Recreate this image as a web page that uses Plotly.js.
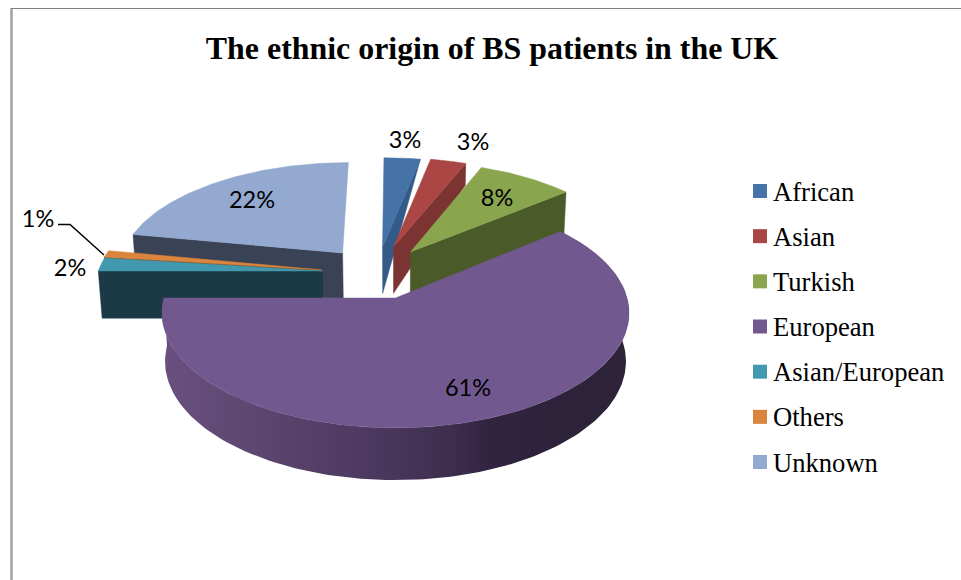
<!DOCTYPE html>
<html>
<head>
<meta charset="utf-8">
<script src="https://cdn.plot.ly/plotly-3.0.1.min.js"></script>
<style>html,body{margin:0;padding:0;background:#fff}#chart{width:961px;height:580px}</style>
</head>
<body>
<div id="chart"></div>
<script>
// Ethnic origin shares, percent
const categories = ['African', 'Asian', 'Turkish', 'European', 'Asian/European', 'Others', 'Unknown'];
const shares = [3, 3, 8, 61, 2, 1, 22];

// Slice colours: top face and shaded wall
const topColors = ['#4573A7', '#AA4643', '#89A54E', '#71588F', '#4198AF', '#DB843D', '#93A9CF'];
const wallColors = ['#345A88', '#7B3432', '#4B5A29', '#2D2239', '#1B3A46', '#7A4A1F', '#3A4355'];

// Exploded offset of each slice on the ground plane
const offsetU = [-0.0595, -0.0092, 0.0683, 0, -0.325, -0.328, -0.241];
const offsetV = [0.4795, 0.4795, 0.4298, 0, 0.2466, 0.256, 0.42];
// Which radial wall shows, and how far the wall drops at its outer end
const wallSide = ['end', 'end', 'end', null, 'start', 'start', 'start'];
const rimDrop = [0, 0.5, 1, 1, 1, 1, 1];
const paintOrder = [6, 5, 4, 0, 1, 2, 3];

// Label centres and key layout
const labelX = [405, 473, 497, 468, 70, 38, 252];
const labelY = [142, 144, 200, 390, 270, 221, 202];
const keyX = 760, keyTextX = 773, keyTop = 191, keyStep = 45.17;

// Perspective projection of the ground plane
const cam = {x0: 395.5, k: 0.13, topA: 231.5, topB: 113, topY: 298, botA: 228.5, botB: 116.6, botY: 346};
function project(U, V, level) {
  const d = 1 + cam.k * V;
  return level === 'top'
    ? [cam.x0 + cam.topA * U / d, cam.topY - cam.topB * V / d]
    : [cam.x0 + cam.botA * U / d, cam.botY - cam.botB * V / d];
}
const rad = d => d * Math.PI / 180;

const total = shares.reduce((a, b) => a + b, 0);
const startDeg = [], endDeg = [];
shares.reduce((acc, s, i) => {
  startDeg[i] = acc / total * 360;
  endDeg[i] = (acc + s) / total * 360;
  return acc + s;
}, 0);

function rimPoint(i, deg, level) {
  return project(offsetU[i] + Math.sin(rad(deg)), offsetV[i] + Math.cos(rad(deg)), level);
}
function polygon(points) {
  return {x: points.map(p => p[0]), y: points.map(p => p[1])};
}
function arc(i, level, steps) {
  const pts = [];
  for (let s = 0; s <= steps; s++) {
    pts.push(rimPoint(i, startDeg[i] + (endDeg[i] - startDeg[i]) * s / steps, level));
  }
  return pts;
}

const traces = [];
function addFace(points, color) {
  const p = polygon(points);
  traces.push({
    type: 'scatter', mode: 'lines', x: p.x.concat(p.x[0]), y: p.y.concat(p.y[0]),
    fill: 'toself', fillcolor: color, line: {color: color, width: 0.5},
    hoverinfo: 'skip', showlegend: false
  });
}

paintOrder.forEach(i => {
  const apexTop = project(offsetU[i], offsetV[i], 'top');
  const apexBot = project(offsetU[i], offsetV[i], 'bottom');
  if (wallSide[i]) {
    const deg = wallSide[i] === 'end' ? endDeg[i] : startDeg[i];
    const rimTop = rimPoint(i, deg, 'top');
    const rimBot = rimPoint(i, deg, 'bottom');
    const rimLow = [rimTop[0] + (rimBot[0] - rimTop[0]) * rimDrop[i], rimTop[1] + (rimBot[1] - rimTop[1]) * rimDrop[i]];
    addFace([apexTop, rimTop, rimLow, apexBot], wallColors[i]);
  } else {
    // Curved outer wall, shaded from left to right
    const t = arc(i, 'top', 160), b = arc(i, 'bottom', 160).reverse();
    const p = polygon(t.concat(b));
    traces.push({
      type: 'scatter', mode: 'lines', x: p.x, y: p.y, fill: 'toself', line: {width: 0},
      fillgradient: {type: 'horizontal', start: 162, stop: 629, colorscale: [
        [0, '#6A5080'], [0.2, '#5D4670'], [0.42, '#4E3A63'], [0.62, '#3D2E4E'],
        [0.7, '#312440'], [0.85, '#2C2239'], [1, '#2E2339']
      ]},
      hoverinfo: 'skip', showlegend: false
    });
  }
  addFace([apexTop].concat(arc(i, 'top', 80)), topColors[i]);
});

// Percentage labels
traces.push({
  type: 'scatter', mode: 'text', x: labelX, y: labelY,
  text: shares.map(s => s + '%'), textposition: 'middle center',
  textfont: {family: 'Lato, Carlito, sans-serif', size: 23.5, color: '#000'},
  hoverinfo: 'skip', showlegend: false
});

// Colour key
const keyY = categories.map((c, i) => keyTop + i * keyStep);
traces.push({
  type: 'scatter', mode: 'markers', x: categories.map(() => keyX), y: keyY,
  marker: {symbol: 'square', size: 14, color: topColors, line: {width: 0}},
  hoverinfo: 'skip', showlegend: false
});
traces.push({
  type: 'scatter', mode: 'text', x: categories.map(() => keyTextX), y: keyY.map(y => y + 3),
  text: categories, textposition: 'middle right',
  textfont: {family: '"Liberation Serif", serif', size: 26.6, color: '#000'},
  hoverinfo: 'skip', showlegend: false
});

const layout = {
  width: 961, height: 580,
  margin: {l: 0, r: 0, t: 0, b: 0},
  paper_bgcolor: '#fff', plot_bgcolor: '#fff',
  title: {
    text: '<b>The ethnic origin of BS patients in the UK</b>',
    font: {family: '"Liberation Serif", serif', size: 31.9, color: '#000'},
    x: 492 / 961, xanchor: 'center', y: 1 - 48 / 580, yanchor: 'middle'
  },
  xaxis: {range: [0, 961], visible: false, fixedrange: true},
  yaxis: {range: [580, 0], visible: false, fixedrange: true},
  showlegend: false,
  shapes: [
    // Chart frame
    {type: 'line', xref: 'x', yref: 'y', x0: 11.5, x1: 11.5, y0: 8, y1: 580, line: {color: '#A0A0A0', width: 2.5}},
    {type: 'line', xref: 'x', yref: 'y', x0: 11, x1: 961, y0: 8.5, y1: 8.5, line: {color: '#808080', width: 1.2}},
    // Leader line for the smallest slice
    {type: 'path', xref: 'x', yref: 'y', path: 'M58,224.5 L70,224.5 L104,255', line: {color: '#000', width: 1.5}}
  ]
};

Plotly.newPlot('chart', traces, layout, {staticPlot: true, displayModeBar: false});
</script>
</body>
</html>
